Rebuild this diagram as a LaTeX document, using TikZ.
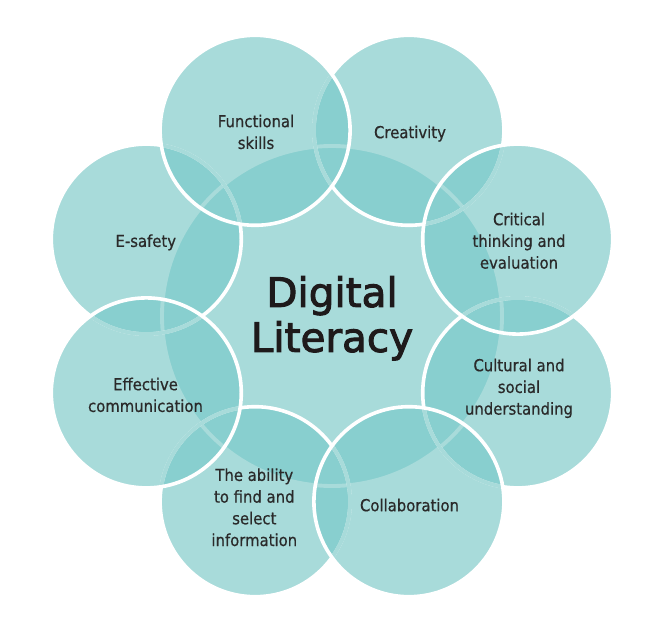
\documentclass[tikz,border=0pt]{standalone}
\usepackage{fontspec}
\newfontfamily\labelfont{DejaVu Sans}[FakeStretch=0.9,FakeBold=0.6]
\newfontfamily\titlefont{DejaVu Sans}[FakeBold=2.5]
\definecolor{tealL}{HTML}{A8DBDA}
\definecolor{tealD}{HTML}{88CFCF}
\definecolor{labeltext}{HTML}{2A2A2A}
\definecolor{titletext}{HTML}{1E1A1B}
\tikzset{
  lbl/.style={font=\labelfont\fontsize{16.5}{21.7}\selectfont, text=labeltext, align=center, anchor=north, inner sep=0pt},
  ttl/.style={font=\titlefont\fontsize{40.5}{45}\selectfont, text=titletext, align=center, anchor=north, inner sep=0pt},
  whiteline/.style={draw=white, line width=3.6pt},
  faintline/.style={draw=tealL, line width=3.9pt},
  outer/.style={radius=95pt},
  inner/.style={radius=170pt}
}
\begin{document}
\begin{tikzpicture}[x=1pt,y=-1pt]
\useasboundingbox (0,0) rectangle (660,628);
% centres
\coordinate (O)   at (332,316);
\coordinate (Fun) at (255.1,130.3);
\coordinate (Cre) at (408.9,130.3);
\coordinate (Cri) at (517.7,239.1);
\coordinate (Cul) at (517.7,392.9);
\coordinate (Col) at (408.9,501.7);
\coordinate (Abi) at (255.1,501.7);
\coordinate (Eff) at (146.3,392.9);
\coordinate (Esa) at (146.3,239.1);
% light fills (union)
\fill[tealL] (O) circle[inner];
\foreach \c in {Fun,Cre,Cri,Cul,Col,Abi,Eff,Esa}
  \fill[tealL] (\c) circle[outer];
% overlaps with the centre
\foreach \c in {Fun,Cre,Cri,Cul,Col,Abi,Eff,Esa}{
  \begin{scope}
    \clip (O) circle[inner];
    \fill[tealD] (\c) circle[outer];
  \end{scope}
}
% overlaps of neighbouring outer circles
\foreach \a/\b in {Fun/Cre,Cre/Cri,Cri/Cul,Cul/Col,Col/Abi,Abi/Eff,Eff/Esa,Esa/Fun}{
  \begin{scope}
    \clip (\a) circle[outer];
    \fill[tealD] (\b) circle[outer];
  \end{scope}
}
% centre outline, covered by all outer circles
\draw[faintline] (O) circle[inner];
% lower circles: white outlines
\foreach \c in {Cre,Cul,Abi,Esa}
  \draw[whiteline] (\c) circle[outer];
% parts of lower outlines lying under upper circles
\foreach \c/\u in {Cre/Fun,Cre/Cri,Cul/Cri,Cul/Col,Abi/Col,Abi/Eff,Esa/Eff,Esa/Fun}{
  \begin{scope}
    \clip (\u) circle[outer];
    \draw[faintline] (\c) circle[outer];
  \end{scope}
}
% upper circles: full white outlines
\foreach \c in {Fun,Cri,Col,Eff}
  \draw[whiteline] (\c) circle[outer];
% labels
\node[lbl] (tFun) at (256,114) {\rule{0pt}{13pt}Functional\\skills};
\node[lbl] (tCre) at (410,125) {\rule{0pt}{13pt}Creativity};
\node[lbl] (tCri) at (519,212) {\rule{0pt}{13pt}Critical\\thinking and\\evaluation};
\node[lbl] (tCul) at (519,358) {\rule{0pt}{13pt}Cultural and\\social\\understanding};
\node[lbl] (tCol) at (409.5,498) {\rule{0pt}{13pt}Collaboration};
\node[lbl] (tAbi) at (254.3,467.7) {\rule{0pt}{13pt}The ability\\to find and\\select\\information};
\node[lbl] (tEff) at (145.5,377) {\rule{0pt}{13pt}Effective\\communication};
\node[lbl] (tEsa) at (145.8,233.7) {\rule{0pt}{13pt}E-safety};
\node[ttl] (title) at (332,274.7) {\rule{0pt}{32pt}Digital\\Literacy};
\end{tikzpicture}
\end{document}
